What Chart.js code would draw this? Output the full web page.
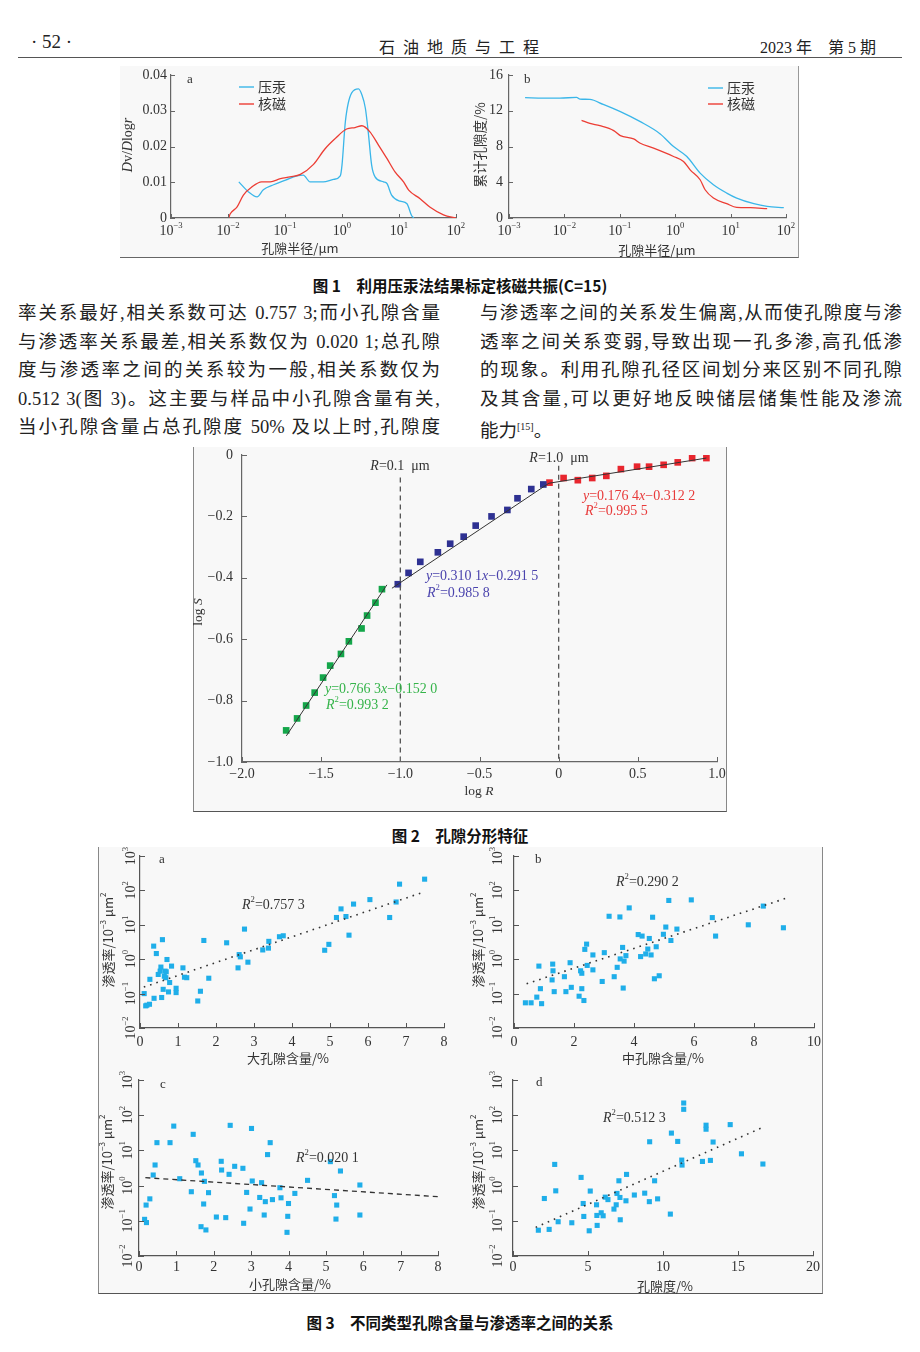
<!DOCTYPE html>
<html>
<head>
<meta charset="utf-8">
<script src="https://cdn.jsdelivr.net/npm/chart.js@4.4.1/dist/chart.umd.min.js"></script>
<style>
  body { margin: 0; width: 920px; height: 1352px; position: relative; overflow: hidden; background: #fff;
         font-family: "Liberation Serif", "Noto Sans CJK SC", serif; color: #222; }
  .abs { position: absolute; }
  .box { position: absolute; background: #f8f8f8; }
  .cap { position: absolute; left: 0; width: 920px; text-align: center; font-family: "Noto Sans CJK SC", sans-serif;
         font-weight: 700; font-size: 15.5px; line-height: 20px; color: #111; }
  .col { position: absolute; width: 422px; font-size: 18.5px; line-height: 28.6px; color: #222; }
  .ln { text-align: justify; text-align-last: justify; height: 28.6px; }
  .ln.end { text-align-last: left; }
  canvas { position: absolute; }
</style>
</head>
<body>

<div class="abs" style="left:31px;top:31px;font-size:19px;">· 52 ·</div>
<div class="abs" style="left:379px;top:34px;font-size:16px;letter-spacing:8px;font-family:'Noto Sans CJK SC',sans-serif;">石油地质与工程</div>
<div class="abs" style="left:760px;top:34px;font-size:16px;">2023 年　第 5 期</div>
<div class="abs" style="left:18px;top:57px;width:884px;height:1px;background:#555;"></div>

<div class="box" style="left:120px;top:66px;width:678px;height:191px;border-bottom:1px solid #666;border-right:1px solid #999;"></div>
<div class="cap" style="top:275px;">图 1　利用压汞法结果标定核磁共振(C=15)</div>

<div class="col" style="left:18px;top:299px;">
  <div class="ln">率关系最好,相关系数可达 0.757 3;而小孔隙含量</div>
  <div class="ln">与渗透率关系最差,相关系数仅为 0.020 1;总孔隙</div>
  <div class="ln">度与渗透率之间的关系较为一般,相关系数仅为</div>
  <div class="ln">0.512 3(图 3)。这主要与样品中小孔隙含量有关,</div>
  <div class="ln">当小孔隙含量占总孔隙度 50% 及以上时,孔隙度</div>
</div>
<div class="col" style="left:480px;top:299px;">
  <div class="ln">与渗透率之间的关系发生偏离,从而使孔隙度与渗</div>
  <div class="ln">透率之间关系变弱,导致出现一孔多渗,高孔低渗</div>
  <div class="ln">的现象。利用孔隙孔径区间划分来区别不同孔隙</div>
  <div class="ln">及其含量,可以更好地反映储层储集性能及渗流</div>
  <div class="ln end">能力<sup style="font-size:10px;">[15]</sup>。</div>
</div>

<div class="box" style="left:193px;top:447px;width:532px;height:364px;border-left:1px solid #888;border-right:1px solid #888;border-bottom:1px solid #555;"></div>
<div class="cap" style="top:825px;">图 2　孔隙分形特征</div>

<div class="box" style="left:98px;top:847px;width:723px;height:446px;border-left:1px solid #888;border-right:1px solid #888;border-bottom:1px solid #555;"></div>
<div class="cap" style="top:1312px;">图 3　不同类型孔隙含量与渗透率之间的关系</div>

<script>
const SERIF = '"Liberation Serif", "Noto Sans CJK SC", serif';
const CJK = '"Noto Sans CJK SC", sans-serif';

// ---- figure 1 (x values are log10 of pore radius, µm) ----
const fig1XTicks = [-3, -2, -1, 0, 1, 2];
const fig1XLabels = ["10^−3^", "10^−2^", "10^−1^", "10^0^", "10^1^", "10^2^"];
const fig1aYTicks = [0, 0.01, 0.02, 0.03, 0.04];
const fig1aYLabels = ["0", "0.01", "0.02", "0.03", "0.04"];
const fig1bYTicks = [0, 4, 8, 12, 16];
const fig1bYLabels = ["0", "4", "8", "12", "16"];

const fig1aHgLogR = [-1.81, -1.64, -1.49, -1.38, -1.20, -0.99, -0.79, -0.68, -0.56, -0.33, -0.15, -0.03, 0.00, 0.06,
  0.17, 0.29, 0.35, 0.41, 0.46, 0.52, 0.58, 0.73, 0.79, 0.87, 1.02, 1.14, 1.22, 1.26];
const fig1aHgDv = [0.0101, 0.0073, 0.0059, 0.0079, 0.0093, 0.0106, 0.0118, 0.0120, 0.0101, 0.0101, 0.0108, 0.0118,
  0.0148, 0.0271, 0.0350, 0.0361, 0.0344, 0.0307, 0.0241, 0.0148, 0.0115, 0.0101, 0.0096, 0.0064, 0.0047, 0.0040,
  0.0007, 0];
const fig1aNmrLogR = [-1.99, -1.96, -1.84, -1.73, -1.58, -1.41, -1.26, -1.08, -0.91, -0.73, -0.50, -0.30, -0.12,
  0.08, 0.23, 0.35, 0.49, 0.64, 0.79, 0.93, 1.08, 1.17, 1.37, 1.54, 1.78, 2.00];
const fig1aNmrDv = [0, 0.0012, 0.0031, 0.0064, 0.0087, 0.0101, 0.0101, 0.0110, 0.0115, 0.0122, 0.0150, 0.0193,
  0.0222, 0.0249, 0.0253, 0.0258, 0.0241, 0.0204, 0.0166, 0.0129, 0.0101, 0.0078, 0.0054, 0.0031, 0.0009, 0];

const fig1bHgLogR = [-2.71, -2.38, -2.08, -1.78, -1.72, -1.54, -1.30, -0.99, -0.63, -0.27, -0.03, 0.21, 0.45, 0.69,
  0.93, 1.11, 1.42, 1.66, 1.96];
const fig1bHgPor = [13.46, 13.42, 13.42, 13.49, 13.31, 13.27, 12.71, 11.90, 10.78, 9.41, 7.99, 6.88, 5.02, 3.72,
  2.79, 2.23, 1.60, 1.30, 1.15];
const fig1bNmrLogR = [-1.69, -1.54, -1.36, -1.11, -0.99, -0.75, -0.63, -0.39, -0.03, 0.15, 0.27, 0.45, 0.54, 0.69,
  0.93, 1.11, 1.36, 1.66];
const fig1bNmrPor = [10.93, 10.59, 10.33, 9.78, 9.22, 8.85, 8.36, 7.81, 6.88, 6.32, 5.39, 4.28, 3.16, 2.23, 1.60,
  1.19, 1.15, 1.04];

// ---- figure 2 ----
const fig2XTicks = [-2, -1.5, -1, -0.5, 0, 0.5, 1];
const fig2XLabels = ["−2.0", "−1.5", "−1.0", "−0.5", "0", "0.5", "1.0"];
const fig2YTicks = [0, -0.2, -0.4, -0.6, -0.8, -1];
const fig2YLabels = ["0", "−0.2", "−0.4", "−0.6", "−0.8", "−1.0"];

const fig2GreenLogR = [-1.721, -1.652, -1.595, -1.541, -1.488, -1.443, -1.375, -1.325, -1.245, -1.210, -1.157, -1.116];
const fig2GreenLogS = [-0.897, -0.858, -0.816, -0.774, -0.725, -0.686, -0.648, -0.607, -0.565, -0.523, -0.481, -0.437];
const fig2BlueLogR = [-1.016, -0.948, -0.874, -0.763, -0.685, -0.600, -0.524, -0.424, -0.324, -0.260, -0.173, -0.097];
const fig2BlueLogS = [-0.421, -0.384, -0.348, -0.317, -0.289, -0.266, -0.230, -0.200, -0.179, -0.141, -0.111, -0.096];
const fig2RedLogR = [-0.058, 0.031, 0.121, 0.212, 0.301, 0.393, 0.495, 0.571, 0.663, 0.752, 0.843, 0.933];
const fig2RedLogS = [-0.090, -0.075, -0.082, -0.075, -0.068, -0.046, -0.038, -0.038, -0.032, -0.024, -0.010, -0.010];

const fig2GreenFitX = [-1.72, -1.085];
const fig2GreenFitY = [-0.915, -0.423];
const fig2BlueFitX = [-1.053, -0.062];
const fig2BlueFitY = [-0.434, -0.092];
const fig2RedFitX = [-0.062, 0.933];
const fig2RedFitY = [-0.092, -0.010];
const fig2CutX = [-1.0, 0];
const fig2CutTop = [-0.073, -0.035];

// ---- figure 3 (permeability, 10^-3 µm²) ----
const fig3YTicks = [0.01, 0.1, 1, 10, 100, 1000];
const fig3YLabels = ["10^−2^", "10^−1^", "10^0^", "10^1^", "10^2^", "10^3^"];
const fig3aXTicks = [0, 1, 2, 3, 4, 5, 6, 7, 8];
const fig3bXTicks = [0, 2, 4, 6, 8, 10];
const fig3dXTicks = [0, 5, 10, 15, 20];

const fig3aX = [0.11, 0.15, 0.18, 0.25, 0.26, 0.37, 0.36, 0.43, 0.48, 0.53, 0.55, 0.57, 0.59, 0.61, 0.64, 0.66, 0.68,
  0.69, 0.71, 0.75, 0.78, 0.83, 0.95, 0.95, 1.13, 1.17, 1.23, 1.52, 1.59, 1.68, 1.81, 2.28, 2.58, 2.61, 2.64, 2.75,
  2.84, 3.23, 3.38, 3.39, 3.67, 3.77, 4.86, 4.97, 5.17, 5.29, 5.42, 5.50, 5.62, 6.05, 6.57, 6.74, 6.83, 7.49];
const fig3aY = [0.10, 0.044, 0.046, 0.049, 0.26, 0.073, 2.4, 1.46, 0.36, 0.45, 0.59, 0.077, 3.7, 0.133, 0.32, 0.45,
  0.29, 0.43, 0.98, 0.112, 0.21, 0.63, 0.143, 0.107, 0.56, 0.30, 0.29, 0.061, 0.117, 3.5, 0.28, 3.0, 0.56, 1.36,
  1.17, 7.5, 0.82, 1.86, 2.1, 3.3, 4.5, 4.8, 1.82, 2.7, 16.3, 29, 17.4, 5.0, 40, 54, 16.3, 46, 152, 212];
const fig3aTrendX = [0.1, 7.5];
const fig3aTrendY = [0.155, 92];

const fig3bX = [0.38, 0.57, 0.76, 0.83, 0.88, 0.92, 1.27, 1.29, 1.30, 1.34, 1.68, 1.73, 1.87, 1.91, 2.17, 2.22, 2.26,
  2.26, 2.33, 2.36, 2.42, 2.44, 2.63, 2.63, 2.94, 3.01, 3.17, 3.34, 3.44, 3.53, 3.54, 3.62, 3.64, 3.67, 3.73, 3.84,
  4.14, 4.22, 4.27, 4.39, 4.46, 4.51, 4.57, 4.62, 4.68, 4.74, 4.84, 4.98, 5.06, 5.16, 5.23, 5.43, 5.91, 6.61, 6.72,
  7.81, 8.31, 8.98];
const fig3bY = [0.054, 0.054, 0.079, 0.63, 0.139, 0.051, 0.25, 0.72, 0.46, 0.114, 0.31, 0.114, 0.79, 0.152, 0.084,
  0.46, 0.39, 0.139, 0.063, 1.93, 2.74, 0.66, 1.33, 0.49, 0.225, 1.55, 17.7, 0.31, 0.58, 16.9, 1.02, 2.2, 0.145,
  0.88, 1.27, 31, 5.2, 1.19, 4.7, 1.42, 1.97, 4.0, 1.33, 16.6, 0.27, 2.3, 0.33, 5.3, 8.6, 51, 3.5, 7.5, 53, 16.2,
  4.7, 10, 35, 8.2];
const fig3bTrendX = [0.42, 9.09];
const fig3bTrendY = [0.193, 60];

const fig3cX = [0.15, 0.20, 0.19, 0.29, 0.38, 0.43, 0.48, 0.83, 0.93, 1.09, 1.40, 1.45, 1.52, 1.58, 1.66, 1.67, 1.73,
  1.75, 1.79, 1.86, 2.07, 2.20, 2.21, 2.32, 2.41, 2.44, 2.56, 2.78, 2.80, 2.88, 2.97, 3.01, 3.03, 3.23, 3.28, 3.35,
  3.38, 3.44, 3.51, 3.57, 3.77, 3.80, 3.96, 3.98, 4.00, 4.17, 4.51, 5.12, 5.23, 5.29, 5.27, 5.39, 5.91, 5.91];
const fig3cY = [0.110, 0.089, 0.28, 0.42, 2.0, 3.85, 16.6, 16.6, 49, 1.57, 0.67, 28.6, 5.1, 3.85, 0.068, 2.28, 0.30,
  1.32, 0.055, 0.63, 0.128, 4.9, 2.77, 0.123, 2.09, 51.5, 3.53, 3.1, 0.085, 0.64, 0.216, 42, 1.35, 0.46, 1.21, 0.146,
  0.35, 7.6, 16.6, 0.40, 0.87, 0.45, 0.047, 0.134, 0.31, 0.60, 1.41, 4.8, 0.52, 0.28, 0.112, 2.6, 1.04, 0.146];
const fig3cTrendX = [0.17, 8.0];
const fig3cTrendY = [1.68, 0.485];

const fig3dX = [1.69, 2.41, 2.09, 2.78, 2.85, 3.01, 3.92, 4.54, 4.68, 4.72, 5.08, 5.15, 5.57, 5.59, 5.61, 5.88, 6.01,
  6.15, 6.33, 6.73, 6.88, 6.93, 7.06, 7.13, 7.15, 7.53, 7.57, 8.09, 8.78, 9.09, 9.11, 9.44, 9.64, 10.49, 10.56, 10.98,
  11.25, 11.27, 11.38, 11.38, 12.63, 12.87, 12.87, 13.16, 13.34, 14.48, 15.23, 16.66];
const fig3dY = [0.054, 0.057, 0.43, 4.0, 0.71, 0.094, 0.088, 1.71, 0.31, 0.133, 0.052, 0.70, 0.285, 0.142, 0.074,
  0.169, 0.139, 0.47, 0.40, 0.215, 0.285, 0.60, 1.37, 0.46, 0.107, 0.37, 2.08, 0.54, 0.61, 0.35, 17.6, 1.37, 0.42,
  0.155, 31, 18.0, 5.3, 3.83, 147, 222, 4.86, 52, 40, 5.2, 17.3, 54, 8.0, 4.1];
const fig3dTrendX = [1.51, 16.59];
const fig3dTrendY = [0.065, 44];

const HG_BLUE = "#3ab6e9";
const NMR_RED = "#ec3d34";
const PT_BLUE = "#1faee9";

// "_x_" = italic, "^2^" = superscript
function parseRich(s) {
  const out = [];
  let it = false, sup = false, buf = "";
  const flush = () => { if (buf) out.push({ t: buf, it, sup }); buf = ""; };
  for (const ch of s) {
    if (ch === "_") { flush(); it = !it; }
    else if (ch === "^") { flush(); sup = !sup; }
    else buf += ch;
  }
  flush();
  return out;
}

function drawRich(ctx, s, x, y, o) {
  const size = o.size || 14;
  const fam = o.family || SERIF;
  const segs = parseRich(s).map((p) => {
    const fs = p.sup ? size * 0.62 : size;
    const font = (p.it ? "italic " : "") + fs + "px " + fam;
    ctx.font = font;
    return { t: p.t, font, w: ctx.measureText(p.t).width, dy: p.sup ? -size * 0.36 : 0 };
  });
  const total = segs.reduce((a, p) => a + p.w, 0);
  ctx.save();
  ctx.translate(x, y);
  if (o.rot) ctx.rotate(o.rot);
  ctx.fillStyle = o.color || "#333";
  ctx.textBaseline = "middle";
  ctx.textAlign = "left";
  let cx = o.align === "center" ? -total / 2 : o.align === "right" ? -total : 0;
  segs.forEach((p) => { ctx.font = p.font; ctx.fillText(p.t, cx, p.dy); cx += p.w; });
  ctx.restore();
}

// inner tick marks, tick labels, titles and notes, all placed through the chart's scales
const deco = {
  id: "deco",
  afterDraw(chart, args, o) {
    const { ctx, chartArea: a } = chart;
    const xs = chart.scales.x, ys = chart.scales.y;
    const [ox, oy] = o.origin;
    ctx.save();
    ctx.strokeStyle = o.axisColor;
    ctx.lineWidth = 1;
    ctx.beginPath();
    o.xTicks.forEach((v) => {
      const px = Math.round(xs.getPixelForValue(v)) + 0.5;
      ctx.moveTo(px, a.bottom);
      ctx.lineTo(px, a.bottom - o.tickLen);
    });
    o.yTicks.forEach((v) => {
      const py = Math.round(ys.getPixelForValue(v)) + 0.5;
      ctx.moveTo(a.left, py);
      ctx.lineTo(a.left + o.tickLen, py);
    });
    ctx.stroke();
    o.xTicks.forEach((v, i) => drawRich(ctx, o.xLabels[i], xs.getPixelForValue(v), o.xLabelY - oy,
      { size: o.size, color: o.color, align: "center" }));
    o.yTicks.forEach((v, i) => drawRich(ctx, o.yLabels[i], o.yLabelX - ox, ys.getPixelForValue(v),
      { size: o.size, color: o.color, align: o.yRotate ? "center" : "right", rot: o.yRotate ? -Math.PI / 2 : 0 }));
    (o.keys || []).forEach((k) => {
      ctx.strokeStyle = k.color;
      ctx.lineWidth = 1.4;
      ctx.beginPath();
      ctx.moveTo(k.x - ox, k.y - oy);
      ctx.lineTo(k.x - ox + 15, k.y - oy);
      ctx.stroke();
      drawRich(ctx, k.t, k.x - ox + 19, k.y - oy, { size: 14, family: CJK, color: "#333" });
    });
    (o.texts || []).forEach((t) => {
      drawRich(ctx, t.t, t.x - ox, t.y - oy, {
        size: t.size || o.size, color: t.color || o.color, align: t.align || "left",
        rot: t.rot || 0, family: t.cjk ? CJK : SERIF,
      });
    });
    ctx.restore();
  },
};

const pts = (xs, ys) => xs.map((v, i) => ({ x: v, y: ys[i] }));

function curve(xs, ys, color) {
  return { data: pts(xs, ys), showLine: true, borderColor: color, borderWidth: 1.3, pointRadius: 0,
    cubicInterpolationMode: "monotone", fill: false };
}
function straight(xs, ys, color, dash, width) {
  return { data: pts(xs, ys), showLine: true, borderColor: color, borderWidth: width || 1, borderDash: dash || [],
    pointRadius: 0, fill: false };
}
function marks(xs, ys, color, r) {
  return { data: pts(xs, ys), showLine: false, pointStyle: "rect", pointRadius: r, backgroundColor: color,
    borderWidth: 0 };
}

function plotChart(o) {
  const [L, T, W, H] = o.box;
  const [pl, pt, pr, pb] = o.plot;
  const cv = document.createElement("canvas");
  cv.width = W;
  cv.height = H;
  cv.style.left = L + "px";
  cv.style.top = T + "px";
  document.body.appendChild(cv);
  const axisColor = o.axisColor || "#666";
  return new Chart(cv, {
    type: "scatter",
    data: { datasets: o.datasets },
    options: {
      responsive: false,
      animation: false,
      events: [],
      layout: { padding: { left: 0, top: pt - T, right: L + W - pr, bottom: 0 } },
      plugins: {
        legend: { display: false },
        tooltip: { enabled: false },
        deco: Object.assign({ origin: [L, T], axisColor, color: "#333", size: 14, tickLen: 5 }, o.deco),
      },
      scales: {
        x: {
          type: "linear", min: o.x[0], max: o.x[1], grid: { display: false },
          border: { color: axisColor, width: 1.2 }, ticks: { display: false },
          afterFit: (s) => { s.height = T + H - pb; s.paddingLeft = 0; s.paddingRight = 0; },
        },
        y: {
          type: o.yLog ? "logarithmic" : "linear", min: o.y[0], max: o.y[1], grid: { display: false },
          border: { color: axisColor, width: 1.2 }, ticks: { display: false },
          afterFit: (s) => { s.width = pl - L; s.paddingTop = 0; s.paddingBottom = 0; },
        },
      },
    },
    plugins: [deco],
  });
}

// figure 1a
plotChart({
  box: [120, 62, 345, 196], plot: [171, 75, 456, 218], x: [-3, 2], y: [0, 0.04],
  datasets: [curve(fig1aNmrLogR, fig1aNmrDv, NMR_RED), curve(fig1aHgLogR, fig1aHgDv, HG_BLUE)],
  deco: {
    tickLen: 4, xTicks: fig1XTicks, xLabels: fig1XLabels, xLabelY: 231,
    yTicks: fig1aYTicks, yLabels: fig1aYLabels, yLabelX: 167,
    keys: [{ color: HG_BLUE, x: 239, y: 87, t: "压汞" }, { color: NMR_RED, x: 239, y: 104, t: "核磁" }],
    texts: [
      { t: "a", x: 187, y: 80, size: 13 },
      { t: "_D_v/_D_log_r_", x: 128, y: 145, align: "center", rot: -Math.PI / 2 },
      { t: "孔隙半径/μm", x: 300, y: 248, align: "center", cjk: true, size: 13 },
    ],
  },
});

// figure 1b
plotChart({
  box: [462, 62, 340, 196], plot: [509, 75, 786, 218], x: [-3, 2], y: [0, 16],
  datasets: [curve(fig1bNmrLogR, fig1bNmrPor, NMR_RED), curve(fig1bHgLogR, fig1bHgPor, HG_BLUE)],
  deco: {
    tickLen: 4, xTicks: fig1XTicks, xLabels: fig1XLabels, xLabelY: 231,
    yTicks: fig1bYTicks, yLabels: fig1bYLabels, yLabelX: 503,
    keys: [{ color: HG_BLUE, x: 708, y: 88, t: "压汞" }, { color: NMR_RED, x: 708, y: 104, t: "核磁" }],
    texts: [
      { t: "b", x: 524, y: 80, size: 13 },
      { t: "累计孔隙度/%", x: 480, y: 145, align: "center", rot: -Math.PI / 2, cjk: true, size: 13.5 },
      { t: "孔隙半径/μm", x: 657, y: 250, align: "center", cjk: true, size: 13 },
    ],
  },
});

// figure 2
plotChart({
  box: [193, 446, 533, 366], plot: [242, 455, 717, 762], x: [-2, 1], y: [-1, 0],
  datasets: [
    straight([fig2CutX[0], fig2CutX[0]], [fig2CutTop[0], -1], "#555", [5, 4], 1.3),
    straight([fig2CutX[1], fig2CutX[1]], [fig2CutTop[1], -1], "#555", [5, 4], 1.3),
    straight(fig2GreenFitX, fig2GreenFitY, "#333", [], 1),
    straight(fig2BlueFitX, fig2BlueFitY, "#333", [], 1),
    straight(fig2RedFitX, fig2RedFitY, "#333", [], 1),
    marks(fig2GreenLogR, fig2GreenLogS, "#14a64a", 4.7),
    marks(fig2BlueLogR, fig2BlueLogS, "#2e3192", 4.7),
    marks(fig2RedLogR, fig2RedLogS, "#e8262e", 4.7),
  ],
  deco: {
    tickLen: 5, xTicks: fig2XTicks, xLabels: fig2XLabels, xLabelY: 774,
    yTicks: fig2YTicks, yLabels: fig2YLabels, yLabelX: 233,
    texts: [
      { t: "_R_=0.1  μm", x: 400, y: 466, align: "center" },
      { t: "_R_=1.0  μm", x: 559, y: 458, align: "center" },
      { t: "_y_=0.176 4_x_−0.312 2", x: 583, y: 496, color: "#e83a3a" },
      { t: "_R_^2^=0.995 5", x: 585, y: 511, color: "#e83a3a" },
      { t: "_y_=0.310 1_x_−0.291 5", x: 426, y: 576, color: "#4a43ad" },
      { t: "_R_^2^=0.985 8", x: 427, y: 593, color: "#4a43ad" },
      { t: "_y_=0.766 3_x_−0.152 0", x: 325, y: 689, color: "#35b44a" },
      { t: "_R_^2^=0.993 2", x: 326, y: 705, color: "#35b44a" },
      { t: "log _R_", x: 479, y: 791, align: "center", size: 13.5 },
      { t: "log _S_", x: 198, y: 612, align: "center", rot: -Math.PI / 2, size: 13.5 },
    ],
  },
});

// figure 3 panels
const permTitle = "渗透率/10^−3^ μm^2^";
function fig3Panel(p) {
  plotChart({
    box: p.box, plot: p.plot, x: p.x, y: [0.01, 1000], yLog: true, axisColor: "#555",
    datasets: [
      straight(p.trendX, p.trendY, "#333", p.dash, p.dashWidth),
      marks(p.xs, p.ys, PT_BLUE, 3.6),
    ],
    deco: {
      tickLen: 5, xTicks: p.xTicks, xLabels: p.xTicks.map(String), xLabelY: p.xLabelY,
      yTicks: fig3YTicks, yLabels: fig3YLabels, yLabelX: p.yLabelX, yRotate: true,
      texts: [
        { t: p.letter, x: p.letterAt[0], y: p.letterAt[1], size: 13 },
        { t: p.r2, x: p.r2At[0], y: p.r2At[1] },
        { t: permTitle, x: p.yTitleAt[0], y: p.yTitleAt[1], align: "center", rot: -Math.PI / 2, cjk: true, size: 13 },
        { t: p.xTitle, x: p.xTitleAt[0], y: p.xTitleAt[1], align: "center", cjk: true, size: 13 },
      ],
    },
  });
}

fig3Panel({
  box: [98, 847, 362, 223], plot: [140, 856, 444, 1028], x: [0, 8], xTicks: fig3aXTicks,
  xs: fig3aX, ys: fig3aY, trendX: fig3aTrendX, trendY: fig3aTrendY, dash: [1.6, 5], dashWidth: 1.6,
  xLabelY: 1042, yLabelX: 131, letter: "a", letterAt: [159, 860], r2: "_R_^2^=0.757 3", r2At: [242, 905],
  yTitleAt: [108, 940], xTitle: "大孔隙含量/%", xTitleAt: [288, 1058],
});
fig3Panel({
  box: [460, 847, 362, 223], plot: [514, 856, 814, 1028], x: [0, 10], xTicks: fig3bXTicks,
  xs: fig3bX, ys: fig3bY, trendX: fig3bTrendX, trendY: fig3bTrendY, dash: [1.6, 5], dashWidth: 1.6,
  xLabelY: 1042, yLabelX: 498, letter: "b", letterAt: [535, 860], r2: "_R_^2^=0.290 2", r2At: [616, 882],
  yTitleAt: [478, 940], xTitle: "中孔隙含量/%", xTitleAt: [663, 1058],
});
fig3Panel({
  box: [98, 1070, 362, 224], plot: [139, 1080, 438, 1256], x: [0, 8], xTicks: fig3aXTicks,
  xs: fig3cX, ys: fig3cY, trendX: fig3cTrendX, trendY: fig3cTrendY, dash: [5, 4], dashWidth: 1.3,
  xLabelY: 1267, yLabelX: 128, letter: "c", letterAt: [160, 1085], r2: "_R_^2^=0.020 1", r2At: [296, 1158],
  yTitleAt: [107, 1162], xTitle: "小孔隙含量/%", xTitleAt: [290, 1284],
});
fig3Panel({
  box: [460, 1070, 362, 224], plot: [513, 1080, 813, 1256], x: [0, 20], xTicks: fig3dXTicks,
  xs: fig3dX, ys: fig3dY, trendX: fig3dTrendX, trendY: fig3dTrendY, dash: [1.6, 5], dashWidth: 1.6,
  xLabelY: 1267, yLabelX: 498, letter: "d", letterAt: [536, 1083], r2: "_R_^2^=0.512 3", r2At: [603, 1118],
  yTitleAt: [478, 1162], xTitle: "孔隙度/%", xTitleAt: [665, 1286],
});
</script>
</body>
</html>
